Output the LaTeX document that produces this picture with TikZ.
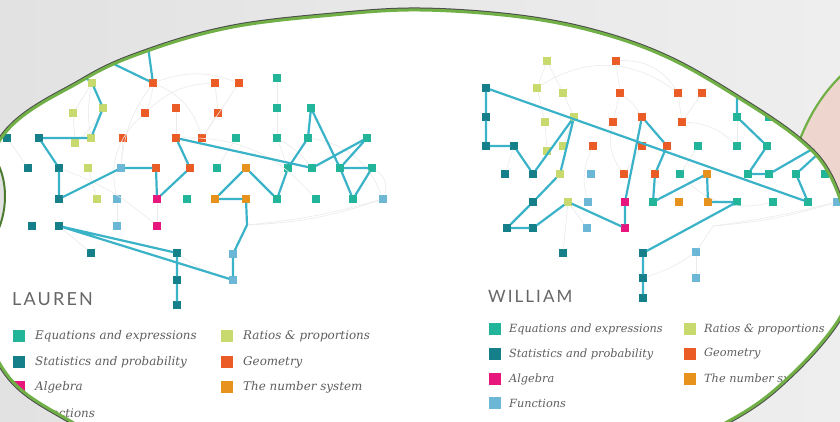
\documentclass[tikz,border=0pt]{standalone}
\usepackage{fontspec}
\setmainfont{DejaVu Serif}
\newfontfamily\titfont[LetterSpace=12]{Lato}
\newfontfamily\legfont{DejaVu Serif}
\usetikzlibrary{calc}
\definecolor{ceq}{HTML}{22B59A}
\definecolor{cst}{HTML}{15808A}
\definecolor{cal}{HTML}{E6167D}
\definecolor{cfu}{HTML}{6CB6D6}
\definecolor{cra}{HTML}{C8DA6E}
\definecolor{cge}{HTML}{EB5B25}
\definecolor{cnu}{HTML}{E8921E}
\definecolor{cpath}{HTML}{3AB3C8}
\definecolor{cgreen}{HTML}{70B047}
\definecolor{cbgL}{HTML}{E2E2E2}
\definecolor{cbgR}{HTML}{EEEEEE}
\definecolor{cskin}{HTML}{EED5CD}
\definecolor{ctxt}{HTML}{5E5E5E}
\tikzset{
 nd/.style={rectangle, minimum size=7.5pt, inner sep=0pt, outer sep=0pt},
 eq/.style={nd, fill=ceq}, st/.style={nd, fill=cst}, al/.style={nd, fill=cal},
 fu/.style={nd, fill=cfu}, ra/.style={nd, fill=cra}, ge/.style={nd, fill=cge},
 nu/.style={nd, fill=cnu},
 lk/.style={draw=cpath, line width=2.2pt, line join=round},
 fl/.style={draw=black!8, line width=0.6pt},
 legsq/.style={rectangle, minimum size=12pt, inner sep=0pt},
 legtx/.style={anchor=west, inner sep=0pt, text=ctxt, font=\legfont\itshape\fontsize{11.9}{12}\selectfont},
 legtxw/.style={anchor=west, inner sep=0pt, text=ctxt, font=\legfont\itshape\fontsize{11.3}{12}\selectfont},
 tit/.style={anchor=west, inner sep=0pt, text=black!60, font=\titfont\fontsize{18}{18}\selectfont},
}
\def\mainpath{plot[smooth cycle, tension=0.6] coordinates {(420,10) (520,17) (600,33) (673,60) (750,105) (800,140) (827,170) (845,215) (852,262) (842,314) (790,376) (727,422) (600,480) (420,500) (200,480) (72,422) (0,364) (-25,252) (0,140) (83,80) (150,50) (233,27) (333,15)}}
\begin{document}
\begin{tikzpicture}[x=1pt,y=-1pt]
\useasboundingbox (0,0) rectangle (840,422);
\fill[left color=cbgL, right color=cbgR] (0,0) rectangle (840,422);
% right neighbour shape
\path[fill=cskin, draw=cgreen, line width=2.2pt] (870,50) -- (845,72) .. controls (825,90) and (808,115) .. (796,150) -- (796,270) -- (870,270) -- cycle;
% main shape
\fill[white] \mainpath;
\begin{scope}
\clip \mainpath;
% ---------- LAUREN nodes ----------
\node[ge] (la) at (153,83) {};
\node[ge] (lb) at (215,83) {};
\node[ge] (lc) at (239,83) {};
\node[eq] (ld) at (277,78) {};
\node[ra] (le) at (92,83) {};
\node[ra] (lf) at (103,108) {};
\node[ra] (lg) at (73,113) {};
\node[ge] (lh) at (145,113) {};
\node[ge] (li) at (176,108) {};
\node[ge] (lj) at (218,113) {};
\node[eq] (lk) at (277,108) {};
\node[eq] (ll) at (311,108) {};
\node[st] (m1) at (7,138) {};
\node[st] (m2) at (39,138) {};
\node[ra] (m3) at (91,138) {};
\node[ra] (m4) at (75,143) {};
\node[ge] (m5) at (123,138) {};
\node[ge] (m6) at (176,138) {};
\node[ge] (m7) at (202,138) {};
\node[eq] (m8) at (236,138) {};
\node[eq] (m9) at (277,138) {};
\node[eq] (m10) at (308,138) {};
\node[eq] (m11) at (367,138) {};
\node[st] (n1) at (28,168) {};
\node[st] (n2) at (59,168) {};
\node[ra] (n3) at (88,168) {};
\node[fu] (n4) at (121,168) {};
\node[ge] (n5) at (156,168) {};
\node[ge] (n6) at (190,168) {};
\node[eq] (n7) at (217,168) {};
\node[nu] (n8) at (246,168) {};
\node[eq] (n9) at (288,168) {};
\node[eq] (n10) at (312,168) {};
\node[eq] (n11) at (340,168) {};
\node[eq] (n12) at (372,168) {};
\node[st] (o1) at (59,199) {};
\node[ra] (o2) at (97,199) {};
\node[fu] (o3) at (117,199) {};
\node[al] (o4) at (157,199) {};
\node[eq] (o5) at (187,199) {};
\node[nu] (o6) at (215,199) {};
\node[nu] (o7) at (246,199) {};
\node[eq] (o8) at (277,199) {};
\node[eq] (o9) at (316,199) {};
\node[eq] (o10) at (353,199) {};
\node[fu] (o11) at (383,199) {};
\node[st] (p1) at (32,226) {};
\node[st] (p2) at (59,226) {};
\node[fu] (p3) at (117,226) {};
\node[al] (p4) at (157,226) {};
\node[st] (q1) at (91,253) {};
\node[st] (q2) at (177,253) {};
\node[st] (q3) at (177,280) {};
\node[st] (q4) at (177,305) {};
\node[fu] (q5) at (233,254) {};
\node[fu] (q6) at (233,280) {};
\coordinate (lx) at (247,225);
\coordinate (lfa) at (145,25);
\coordinate (lfb) at (60,38);
\coordinate (lfc) at (70,65);
% faint links
\draw[fl] (la) to[bend left=10] (lh);
\draw[fl] (la) to[bend right=15] (n4);
\draw[fl] (la) to[bend left=20] (lc);
\draw[fl] (la) to[bend left=25] (m7);
\draw[fl] (le) -- (lg);
\draw[fl] (le) to[bend right=10] (m3);
\draw[fl] (lg) -- (m4);
\draw[fl] (lf) to[bend left=10] (m4);
\draw[fl] (lb) -- (lj);
\draw[fl] (lb) to[bend right=20] (lh);
\draw[fl] (lc) -- (m7);
\draw[fl] (ld) -- (lk) -- (m9);
\draw[fl] (m9) -- (n9);
\draw[fl] (m9) to[bend left=10] (n10);
\draw[fl] (lj) -- (m7);
\draw[fl] (m8) -- (n7);
\draw[fl] (li) -- (m6);
\draw[fl] (m5) -- (n4);
\draw[fl] (m1) -- (n1);
\draw[fl] (n3) -- (o2);
\draw[fl] (o3) -- (p3);
\draw[fl] (o4) -- (p4);
\draw[fl] (p2) -- (q1);
\draw[fl] (n2) to[bend left=10] (p4);
\draw[fl] (lx) to[bend right=8] (o11);
\draw[fl] (lx) to[bend right=5] (o11);
\draw[fl] (q6) to[bend left=10] (q2);
\draw[fl] (m6) to[bend left=25] (o9);
\draw[fl] (lh) to[bend right=30] (o3);
\draw[fl] (m10) to[bend left=30] (o11);
\draw[fl] (n12) to[bend left=40] (o11);
% cyan path
\draw[lk] (lfa) -- (la);
\draw[lk] (lfb) -- (la);
\draw[lk] (lfc) -- (le) -- (lf) -- (m3) -- (m2) -- (n2) -- (o1) -- (n4) -- (n5) -- (o4) -- (n6) -- (m6) -- (n10);
\draw[lk] (n9) -- (m10) -- (ll) -- (n11) -- (m11) -- (n10);
\draw[lk] (n11) -- (n12) -- (o10) -- (n11);
\draw[lk] (n8) -- (o6) -- (o7) -- (lx) -- (q5) -- (q6) -- (p2) -- (q2) -- (q3) -- (q4);
\draw[lk] (n8) -- (o8) -- (n9);
% ---------- WILLIAM nodes ----------
\node[ra] (wa) at (547,61) {};
\node[ge] (wb) at (616,61) {};
\node[st] (wc) at (486,88) {};
\node[ra] (wd) at (537,88) {};
\node[ra] (we) at (563,93) {};
\node[ge] (wf) at (620,93) {};
\node[ge] (wg) at (678,93) {};
\node[ge] (wh) at (702,93) {};
\node[st] (wi) at (486,117) {};
\node[ra] (wj) at (545,122) {};
\node[ra] (wk) at (574,117) {};
\node[ge] (wl) at (613,122) {};
\node[ge] (wm) at (642,117) {};
\node[ge] (wn) at (682,122) {};
\node[eq] (wo) at (737,117) {};
\node[eq] (wp) at (769,117) {};
\node[st] (x1) at (486,146) {};
\node[st] (x2) at (514,146) {};
\node[ra] (x3) at (547,151) {};
\node[ra] (x4) at (563,146) {};
\node[ge] (x5) at (593,146) {};
\node[ge] (x6) at (642,146) {};
\node[ge] (x7) at (667,146) {};
\node[eq] (x8) at (698,146) {};
\node[eq] (x9) at (737,146) {};
\node[eq] (x10) at (767,146) {};
\node[st] (y1) at (505,174) {};
\node[st] (y2) at (533,174) {};
\node[ra] (y3) at (560,174) {};
\node[fu] (y4) at (591,174) {};
\node[ge] (y5) at (624,174) {};
\node[ge] (y6) at (655,174) {};
\node[eq] (y7) at (680,174) {};
\node[nu] (y8) at (707,174) {};
\node[eq] (y9) at (748,174) {};
\node[eq] (y10) at (769,174) {};
\node[eq] (y11) at (796,174) {};
\node[eq] (y12) at (825,174) {};
\node[st] (z1) at (533,202) {};
\node[ra] (z2) at (568,202) {};
\node[fu] (z3) at (588,202) {};
\node[al] (z4) at (625,202) {};
\node[eq] (z5) at (653,202) {};
\node[nu] (z6) at (679,202) {};
\node[nu] (z7) at (708,202) {};
\node[eq] (z8) at (737,202) {};
\node[eq] (z9) at (773,202) {};
\node[eq] (z10) at (808,202) {};
\node[fu] (z11) at (837,202) {};
\node[st] (v1) at (507,228) {};
\node[st] (v2) at (533,228) {};
\node[fu] (v3) at (587,228) {};
\node[al] (v4) at (625,228) {};
\node[st] (u1) at (563,253) {};
\node[st] (u2) at (643,253) {};
\node[st] (u3) at (643,278) {};
\node[st] (u4) at (643,298) {};
\node[fu] (u5) at (696,252) {};
\node[fu] (u6) at (696,278) {};
\coordinate (wx) at (713,226);
\coordinate (wfa) at (737,60);
\coordinate (wfb) at (842,132);
% faint links
\draw[fl] (wa) -- (wd);
\draw[fl] (wa) -- (we);
\draw[fl] (wb) -- (wf);
\draw[fl] (wd) -- (wj);
\draw[fl] (we) -- (wk);
\draw[fl] (wj) -- (x3);
\draw[fl] (wk) -- (x4);
\draw[fl] (wf) -- (wl);
\draw[fl] (wf) to[bend left=10] (wm);
\draw[fl] (wg) -- (wn);
\draw[fl] (wh) -- (wn);
\draw[fl] (wo) -- (x9);
\draw[fl] (wx) to[bend right=6] (z11);
\draw[fl] (wx) to[bend right=3] (z11);
\draw[fl] (wx) -- (u5);
\draw[fl] (u3) to[bend right=8] (u5);
\draw[fl] (u5) -- (u6);
\draw[fl] (z2) -- (v3);
\draw[fl] (y1) -- (x2);
\draw[fl] (u1) -- (z2);
\draw[fl] (x5) to[bend right=20] (z3);
\draw[fl] (wb) to[bend left=30] (wg);
\draw[fl] (wl) to[bend right=25] (y5);
\draw[fl] (x6) -- (y5);
\draw[fl] (x8) -- (y7);
\draw[fl] (wn) to[bend left=20] (x9);
\draw[fl] (y7) to[bend right=30] (z9);
\draw[fl] (wd) to[bend left=35] (wg);
% cyan path
\draw[lk] (wc) -- (wi) -- (x1) -- (x2) -- (y2) -- (wk) -- (y3) -- (z1) -- (v1) -- (v2) -- (z2) -- (v4) -- (z4) -- (wm) -- (x7) -- (y6) -- (z5) -- (y8) -- (z7) -- (z8) -- (u2) -- (u3) -- (u4);
\draw[lk] (wc) -- (z10);
\draw[lk] (wfa) -- (wo) -- (x10) -- (y9) -- (y10) -- (wfb);
\draw[lk] (wfb) -- (y11) -- (z10);
% ---------- legends ----------
\node[tit] (ltit) at (12,299) {LAUREN};
\node[legsq, fill=ceq] (ls1) at (19,336) {};
\node[legsq, fill=cst] (ls2) at (19,362) {};
\node[legsq, fill=cal] (ls3) at (19,387) {};
\node[legsq, fill=cfu] (ls4) at (19,413) {};
\node[legsq, fill=cra] (ls5) at (226.5,336) {};
\node[legsq, fill=cge] (ls6) at (226.5,362) {};
\node[legsq, fill=cnu] (ls7) at (226.5,387) {};
\node[legtx] (lt1) at (35,336) {Equations and expressions};
\node[legtx] (lt2) at (35,362) {Statistics and probability};
\node[legtx] (lt3) at (35,387) {Algebra};
\node[legtx] (lt4) at (35,413) {Functions};
\node[legtx] (lt5) at (243,336) {Ratios \& proportions};
\node[legtx] (lt6) at (243,362) {Geometry};
\node[legtx] (lt7) at (243,387) {The number system};
\node[tit, font=\titfont\fontsize{17}{17}\selectfont] (wtit) at (488,296) {WILLIAM};
\node[legsq, fill=ceq] (ws1) at (494.5,329) {};
\node[legsq, fill=cst] (ws2) at (494.5,354) {};
\node[legsq, fill=cal] (ws3) at (494.5,379) {};
\node[legsq, fill=cfu] (ws4) at (494.5,403) {};
\node[legsq, fill=cra] (ws5) at (689.5,329) {};
\node[legsq, fill=cge] (ws6) at (689.5,354) {};
\node[legsq, fill=cnu] (ws7) at (689.5,379) {};
\node[legtxw] (wt1) at (509,329) {Equations and expressions};
\node[legtxw] (wt2) at (509,354) {Statistics and probability};
\node[legtxw] (wt3) at (509,379) {Algebra};
\node[legtxw] (wt4) at (509,403) {Functions};
\node[legtxw] (wt5) at (704,329) {Ratios \& proportions};
\node[legtxw] (wt6) at (704,354) {Geometry};
\node[legtxw] (wt7) at (704,379) {The number system};
\end{scope}
% rim: dark fringe outside, then green
\begin{scope}[even odd rule]
\clip (-60,-60) rectangle (900,520) \mainpath;
\draw[line width=5pt, black!70] \mainpath;
\end{scope}
\draw[line width=3pt, cgreen] \mainpath;
% left neighbour edge
\path[fill=cbgL, draw=cgreen!70!black, line width=2pt] (-12,160) -- (-1,166) .. controls (7,184) and (7,208) .. (-1,228) -- (-12,235) -- cycle;
\end{tikzpicture}
\end{document}
